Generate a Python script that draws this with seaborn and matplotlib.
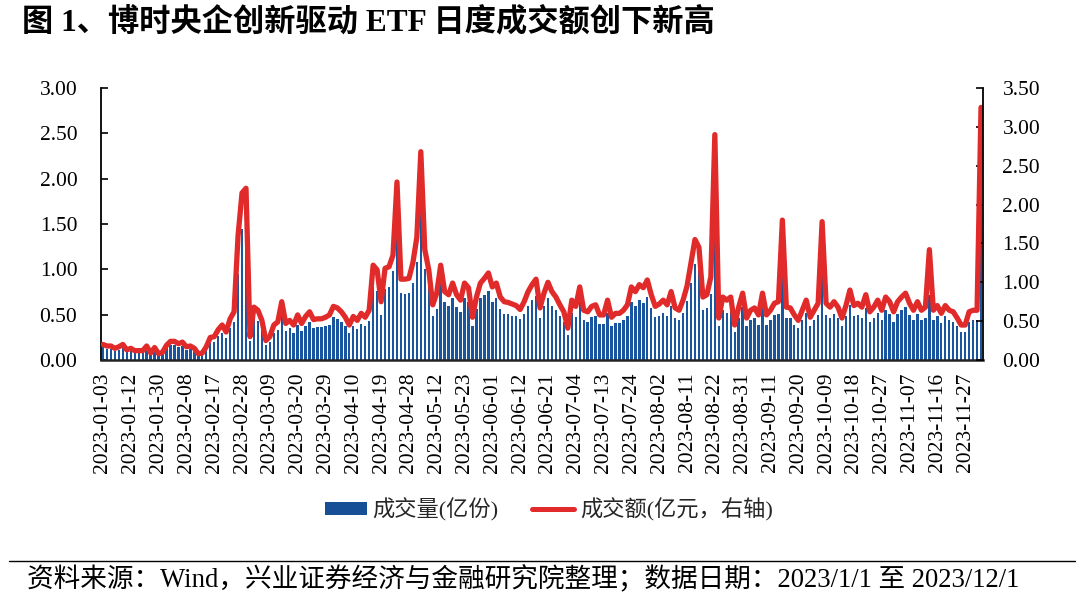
import matplotlib
matplotlib.use("Agg")
import matplotlib.pyplot as plt
import seaborn as sns
import pandas as pd
from matplotlib.patches import Patch
from matplotlib.lines import Line2D

# === data: trading days 2023-01-03 .. 2023-12-01 (222 days) ===
tick_labels = ['2023-01-03', '2023-01-12', '2023-01-30', '2023-02-08', '2023-02-17', '2023-02-28',
               '2023-03-09', '2023-03-20', '2023-03-29', '2023-04-10', '2023-04-19', '2023-04-28',
               '2023-05-12', '2023-05-23', '2023-06-01', '2023-06-12', '2023-06-21', '2023-07-04',
               '2023-07-13', '2023-07-24', '2023-08-02', '2023-08-11', '2023-08-22', '2023-08-31',
               '2023-09-11', '2023-09-20', '2023-10-09', '2023-10-18', '2023-10-27', '2023-11-07',
               '2023-11-16', '2023-11-27']

# 成交量 (亿份), left axis
volume = [
    0.14, 0.12, 0.12, 0.10, 0.11, 0.13, 0.09, 0.10, 0.08, 0.08,
    0.08, 0.12, 0.06, 0.11, 0.05, 0.07, 0.13, 0.16, 0.16, 0.14,
    0.15, 0.11, 0.12, 0.10, 0.05, 0.06, 0.11, 0.19, 0.20, 0.26,
    0.30, 0.24, 0.35, 0.42, 0.95, 1.45, 1.52, 0.21, 0.46, 0.43,
    0.34, 0.17, 0.20, 0.30, 0.33, 0.48, 0.32, 0.35, 0.30, 0.39,
    0.32, 0.38, 0.42, 0.35, 0.36, 0.36, 0.37, 0.39, 0.47, 0.45,
    0.42, 0.37, 0.30, 0.38, 0.34, 0.40, 0.37, 0.43, 0.80, 0.76,
    0.50, 0.78, 0.80, 0.98, 1.33, 0.74, 0.73, 0.74, 0.85, 1.08,
    1.68, 1.00, 0.80, 0.48, 0.56, 0.85, 0.64, 0.60, 0.68, 0.58,
    0.53, 0.68, 0.64, 0.38, 0.56, 0.68, 0.72, 0.76, 0.64, 0.68,
    0.56, 0.51, 0.51, 0.49, 0.48, 0.45, 0.51, 0.60, 0.66, 0.71,
    0.46, 0.59, 0.68, 0.60, 0.55, 0.49, 0.42, 0.28, 0.52, 0.47,
    0.64, 0.44, 0.42, 0.47, 0.48, 0.40, 0.40, 0.52, 0.37, 0.41,
    0.41, 0.44, 0.48, 0.64, 0.60, 0.66, 0.63, 0.70, 0.57, 0.47,
    0.49, 0.52, 0.48, 0.60, 0.46, 0.44, 0.52, 0.65, 0.85, 1.06,
    0.99, 0.55, 0.57, 0.73, 1.45, 0.37, 0.55, 0.52, 0.55, 0.31,
    0.46, 0.58, 0.37, 0.44, 0.46, 0.39, 0.58, 0.39, 0.44, 0.50,
    0.51, 0.95, 0.46, 0.46, 0.39, 0.35, 0.44, 0.52, 0.37, 0.44,
    0.50, 0.98, 0.50, 0.46, 0.51, 0.46, 0.37, 0.48, 0.61, 0.48,
    0.50, 0.46, 0.57, 0.42, 0.46, 0.52, 0.44, 0.55, 0.51, 0.42,
    0.51, 0.55, 0.58, 0.50, 0.44, 0.51, 0.44, 0.46, 0.72, 0.44,
    0.48, 0.41, 0.48, 0.44, 0.42, 0.37, 0.31, 0.31, 0.42, 0.44,
    0.44, 2.78,
]

# 成交额 (亿元), right axis
amount = [
    0.20, 0.18, 0.18, 0.15, 0.17, 0.20, 0.13, 0.15, 0.12, 0.12,
    0.12, 0.18, 0.09, 0.16, 0.08, 0.10, 0.19, 0.24, 0.24, 0.21,
    0.23, 0.17, 0.18, 0.15, 0.08, 0.09, 0.17, 0.29, 0.30, 0.39,
    0.45, 0.36, 0.53, 0.62, 1.60, 2.15, 2.21, 0.30, 0.68, 0.64,
    0.51, 0.25, 0.30, 0.45, 0.49, 0.75, 0.47, 0.51, 0.45, 0.58,
    0.47, 0.56, 0.62, 0.52, 0.53, 0.53, 0.55, 0.58, 0.69, 0.67,
    0.62, 0.55, 0.45, 0.56, 0.51, 0.60, 0.55, 0.64, 1.22, 1.16,
    0.75, 1.18, 1.20, 1.35, 2.29, 1.04, 1.04, 1.05, 1.25, 1.58,
    2.68, 1.42, 1.16, 0.71, 0.86, 1.22, 0.88, 0.84, 0.99, 0.84,
    0.77, 0.99, 0.93, 0.55, 0.81, 0.99, 1.05, 1.12, 0.94, 0.99,
    0.81, 0.75, 0.74, 0.72, 0.70, 0.65, 0.75, 0.88, 0.97, 1.04,
    0.67, 0.86, 1.00, 0.88, 0.81, 0.71, 0.62, 0.41, 0.77, 0.69,
    0.94, 0.64, 0.62, 0.69, 0.71, 0.58, 0.58, 0.77, 0.55, 0.60,
    0.60, 0.64, 0.71, 0.94, 0.88, 0.97, 0.93, 1.03, 0.84, 0.69,
    0.72, 0.77, 0.71, 0.88, 0.67, 0.64, 0.77, 0.95, 1.25, 1.55,
    1.45, 0.81, 0.84, 1.07, 2.90, 0.54, 0.81, 0.77, 0.81, 0.45,
    0.68, 0.86, 0.54, 0.64, 0.67, 0.58, 0.86, 0.58, 0.64, 0.73,
    0.75, 1.80, 0.68, 0.67, 0.58, 0.51, 0.64, 0.77, 0.55, 0.64,
    0.73, 1.78, 0.73, 0.68, 0.75, 0.68, 0.54, 0.70, 0.90, 0.70,
    0.73, 0.68, 0.84, 0.62, 0.68, 0.77, 0.64, 0.81, 0.75, 0.62,
    0.75, 0.81, 0.86, 0.73, 0.64, 0.75, 0.64, 0.68, 1.42, 0.64,
    0.70, 0.60, 0.70, 0.64, 0.62, 0.54, 0.45, 0.45, 0.62, 0.64,
    0.64, 3.25,
]

df = pd.DataFrame({'day': range(len(volume)), 'volume': volume, 'amount': amount})

sns.set_theme(style="white")
plt.rcParams['font.family'] = ['Liberation Serif', 'Noto Sans CJK SC']
plt.rcParams['axes.unicode_minus'] = False

bar_color = '#1a55a0'
line_color = '#e12a2a'

fig = plt.figure(figsize=(10.8, 5.97), dpi=100)
ax = fig.add_axes([0.0935, 0.397, 0.8167, 0.4556])

sns.barplot(data=df, x='day', y='volume', ax=ax, color=bar_color, saturation=1,
            width=0.6, errorbar=None, linewidth=0)

ax2 = ax.twinx()
sns.lineplot(data=df, x='day', y='amount', ax=ax2, color=line_color, linewidth=3.8)

ax.set_xlim(-0.5, len(volume) - 0.5)
ax.set_ylim(0, 3.0)
ax2.set_ylim(0, 3.5)
ax.set_yticks([i * 0.5 for i in range(7)])
ax.set_yticklabels([f'{i * 0.5:.2f}' for i in range(7)])
ax2.set_yticks([i * 0.5 for i in range(8)])
ax2.set_yticklabels([f'{i * 0.5:.2f}' for i in range(8)])

ax.set_xticks(list(range(0, 7 * len(tick_labels), 7)))
ax.set_xticklabels(tick_labels, rotation=90)

for a in (ax, ax2):
    a.set_xlabel('')
    a.set_ylabel('')
    a.grid(False)
    for s in a.spines.values():
        s.set_visible(False)

ax.spines['left'].set_visible(True)
ax.spines['bottom'].set_visible(True)
ax2.spines['right'].set_visible(True)
ax.spines['left'].set_color('black')
ax.spines['left'].set_linewidth(1.3)
ax.spines['bottom'].set_color('#222222')
ax.spines['bottom'].set_linewidth(1.8)
ax2.spines['right'].set_color('black')
ax2.spines['right'].set_linewidth(1.3)

ax.tick_params(axis='y', direction='in', length=5, width=1.2, colors='black',
               labelsize=15.5, pad=17, left=True)
ax.tick_params(axis='x', length=0, labelsize=15.5, pad=9, labelcolor='black')
ax2.tick_params(axis='y', direction='in', length=5, width=1.2, colors='black',
                labelsize=15.5, pad=14, right=True)

# legend
handles = [Patch(facecolor='#164f96', edgecolor='none'),
           Line2D([0], [0], color=line_color, linewidth=3.6)]
fig.legend(handles, ['成交量(亿份)', '成交额(亿元，右轴)'], loc='center',
           bbox_to_anchor=(0.508, 0.146), ncol=2, frameon=False, fontsize=16,
           handlelength=1.9, handleheight=0.5, handletextpad=0.25, columnspacing=1.5)

# title and source
fig.text(0.02, 0.963, '图 1、博时央企创新驱动 ETF 日度成交额创下新高', fontsize=22.5,
         fontweight='bold', ha='left', va='center', color='black')
fig.add_artist(Line2D([0.008, 0.995], [0.0603, 0.0603], color='black', linewidth=1.0))
fig.text(0.025, 0.0285, '资料来源：Wind，兴业证券经济与金融研究院整理；数据日期：2023/1/1 至 2023/12/1',
         fontsize=19.2, ha='left', va='center', color='black')

plt.savefig('out.png', dpi=100)
